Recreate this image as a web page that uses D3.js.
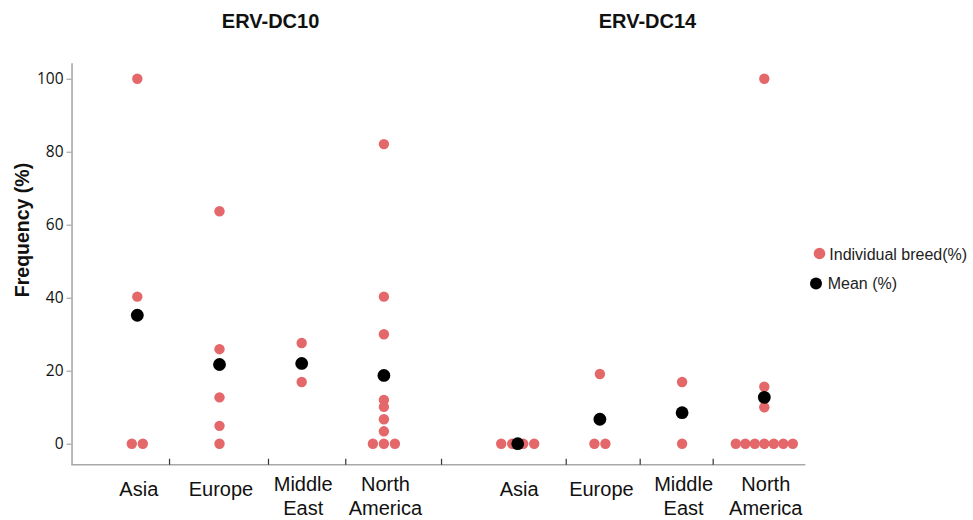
<!DOCTYPE html>
<html>
<head>
<meta charset="utf-8">
<script src="https://cdn.jsdelivr.net/npm/d3@7/dist/d3.min.js"></script>
<style>
  html, body { margin: 0; padding: 0; background: #fff; }
  svg { display: block; }
</style>
</head>
<body>
<svg id="chart" width="973" height="520"></svg>
<script>
// Frequency (%) of each endogenous retrovirus per breed, grouped by region
const panels = ["ERV-DC10", "ERV-DC14"];
const regions = ["Asia", "Europe", "Middle East", "North America"];
const regionLines = [["Asia"], ["Europe"], ["Middle", "East"], ["North", "America"]];

const dc10Breeds = [
  [100, 40.3, 0, 0],
  [63.7, 25.9, 12.7, 4.9, 0],
  [27.6, 16.9],
  [82.1, 40.3, 30.0, 12.0, 10.1, 6.7, 3.4, 0, 0, 0]
];
const dc10Means = [35.2, 21.7, 22.0, 18.7];

const dc14Breeds = [
  [0, 0, 0, 0],
  [19.1, 0, 0],
  [16.9, 0],
  [100, 15.6, 10.0, 0, 0, 0, 0, 0, 0, 0]
];
const dc14Means = [0, 6.7, 8.5, 12.7];

const yTicks = [0, 20, 40, 60, 80, 100];
// divider ticks along the baseline, in category-index units of each panel
const dc10Dividers = [0.386, 1.59, 2.53, 3.695];
const dc14Dividers = [0.584, 1.484, 2.372];

const legendItems = ["Individual breed(%)", "Mean (%)"];

const RED = "#e4676a";
const AXIS_GREY = "#a8a8a8";

const svg = d3.select("#chart");

const y = d3.scaleLinear().domain([-5.75, 104.4]).range([464.7, 62.7]);

const xPanels = [
  d3.scaleLinear().domain([0, 3]).range([137.3, 383.9]),
  d3.scaleLinear().domain([0, 3]).range([517.7, 764.3])
];
const breedsByPanel = [dc10Breeds, dc14Breeds];
const meansByPanel = [dc10Means, dc14Means];
const dividersByPanel = [dc10Dividers, dc14Dividers];
const titleShift = [10, 6.5];

const axisLeftX = xPanels[0](-0.8);
const axisRightX = xPanels[1](3.5);
const baseY = y(-5.75);

// y axis
const yAxis = svg.append("g")
  .attr("transform", `translate(${axisLeftX},0)`)
  .call(d3.axisLeft(y).tickValues(yTicks).tickSize(5).tickSizeOuter(0).tickPadding(3));
yAxis.select(".domain").attr("stroke", AXIS_GREY).attr("stroke-width", 1.6);
yAxis.selectAll(".tick line").attr("stroke", AXIS_GREY).attr("stroke-width", 1.2);
yAxis.selectAll(".tick text")
  .attr("font-family", "'Open Sans', sans-serif")
  .attr("font-size", 15.5)
  .attr("fill", "#111");

// y axis title
svg.append("text")
  .attr("transform", `translate(29,230) rotate(-90)`)
  .attr("text-anchor", "middle")
  .attr("font-family", "'Liberation Sans', Arial, sans-serif")
  .attr("font-weight", "bold")
  .attr("font-size", 19.5)
  .attr("fill", "#111")
  .text("Frequency (%)");

// baseline
svg.append("line")
  .attr("x1", axisLeftX).attr("x2", axisRightX)
  .attr("y1", baseY).attr("y2", baseY)
  .attr("stroke", AXIS_GREY).attr("stroke-width", 1.6);

// spread tied values side by side
function swarm(values, cx) {
  const counts = d3.rollup(values, v => v.length, d => d);
  const seen = new Map();
  return values.map(v => {
    const n = counts.get(v);
    const k = seen.get(v) || 0;
    seen.set(v, k + 1);
    const step = n > 1 ? Math.min(11, 57 / (n - 1)) : 0;
    return { value: v, x: cx + (k - (n - 1) / 2) * step };
  });
}

panels.forEach((title, p) => {
  const x = xPanels[p];

  svg.append("text")
    .attr("x", (x(0) + x(3)) / 2 + titleShift[p])
    .attr("y", 28.3)
    .attr("text-anchor", "middle")
    .attr("font-family", "'Liberation Sans', Arial, sans-serif")
    .attr("font-weight", "bold")
    .attr("font-size", 20)
    .attr("fill", "#111")
    .text(title);

  // divider ticks pointing up from the baseline
  const ticks = svg.append("g")
    .attr("transform", `translate(0,${baseY})`)
    .call(d3.axisTop(x).tickValues(dividersByPanel[p]).tickSize(6).tickFormat(""));
  ticks.select(".domain").remove();
  ticks.selectAll(".tick line").attr("stroke", "#333").attr("stroke-width", 1.2);

  // region labels
  regions.forEach((r, i) => {
    const lines = regionLines[i];
    const t = svg.append("text")
      .attr("text-anchor", "middle")
      .attr("font-family", "'Liberation Sans', Arial, sans-serif")
      .attr("font-size", 20)
      .attr("fill", "#111");
    lines.forEach((ln, j) => {
      t.append("tspan")
        .attr("x", x(i) + 1.5)
        .attr("y", lines.length === 1 ? 496 : 490.7 + j * 24.3)
        .text(ln);
    });
  });

  // individual breeds
  breedsByPanel[p].forEach((vals, i) => {
    svg.append("g").selectAll("circle")
      .data(swarm(vals, x(i)))
      .join("circle")
      .attr("cx", d => d.x)
      .attr("cy", d => y(d.value))
      .attr("r", 5.2)
      .attr("fill", RED);
  });

  // means
  svg.append("g").selectAll("circle")
    .data(meansByPanel[p])
    .join("circle")
    .attr("cx", (d, i) => x(i))
    .attr("cy", d => y(d))
    .attr("r", 6.4)
    .attr("fill", "#000");
});

// legend
const legend = svg.append("g");
const legendColors = [RED, "#000"];
const legendPos = [{ cx: 819.5, cy: 253.5, r: 5.8, tx: 829.3, ty: 259.5 },
                   { cx: 816, cy: 283.5, r: 6, tx: 827.7, ty: 289.3 }];
legendItems.forEach((label, i) => {
  const lp = legendPos[i];
  legend.append("circle").attr("cx", lp.cx).attr("cy", lp.cy).attr("r", lp.r).attr("fill", legendColors[i]);
  legend.append("text")
    .attr("x", lp.tx).attr("y", lp.ty)
    .attr("font-family", "'Liberation Sans', Arial, sans-serif")
    .attr("font-size", 16)
    .attr("fill", "#222")
    .text(label);
});
</script>
</body>
</html>
